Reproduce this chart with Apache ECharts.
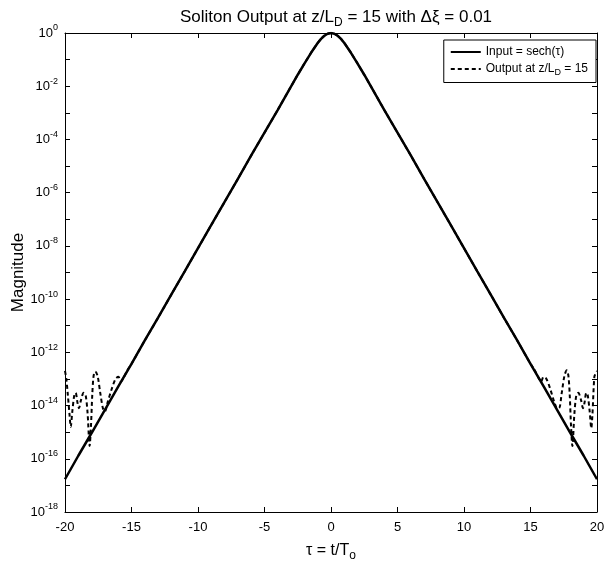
<!DOCTYPE html>
<html>
<head>
<meta charset="utf-8">
<script src="https://cdn.jsdelivr.net/npm/echarts@6/dist/echarts.min.js"></script>
<style>
  html, body { margin: 0; padding: 0; background: #fff; }
  #chart { width: 605px; height: 563px; }
</style>
</head>
<body>
<div id="chart"></div>
<script>
// input pulse
var inTau = [-20, -19, -18, -17, -16, -15, -14, -13, -12, -11, -10, -9, -8, -7, -6, -5, -4, -3,
    -2.5, -2, -1.5, -1, -0.75, -0.5, -0.25, 0, 0.25, 0.5, 0.75, 1, 1.5, 2, 2.5,
    3, 4, 5, 6, 7, 8, 9, 10, 11, 12, 13, 14, 15, 16, 17, 18, 19, 20];
var inMag = [1.7e-17, 1.3e-16, 9.3e-16, 6.9e-15, 5.1e-14, 3.7e-13, 2.8e-12, 2.0e-11, 1.5e-10, 1.1e-9,
    8.2e-9, 6.1e-8, 4.5e-7, 3.3e-6, 2.5e-5, 1.8e-4, 1.3e-3, 9.9e-3,
    0.027, 0.071, 0.18, 0.42, 0.60, 0.79, 0.94, 1, 0.94, 0.79, 0.60, 0.42, 0.18, 0.071, 0.027,
    9.9e-3, 1.3e-3, 1.8e-4, 2.5e-5, 3.3e-6, 4.5e-7, 6.1e-8, 8.2e-9, 1.1e-9, 1.5e-10, 2.0e-11,
    2.8e-12, 3.7e-13, 5.1e-14, 6.9e-15, 9.3e-16, 1.3e-16, 1.7e-17];

// output pulse, follows the input in the middle, noise floor on the tails
var outTau = [-20, -19.9, -19.8, -19.65, -19.57, -19.45, -19.3, -19.2, -19.05, -18.95, -18.8, -18.6,
    -18.45, -18.3, -18.15, -18.05, -17.95, -17.85, -17.72, -17.55, -17.35, -17.15, -17, -16.8,
    -16.5, -16.2, -15.98, -15.8, -15.6, -15.3, -15, -14, -13, -12, -11, -10, -9, -8, -7, -6, -5,
    -4, -3, -2.5, -2, -1.5, -1, -0.75, -0.5, -0.25, 0, 0.25, 0.5, 0.75, 1, 1.5, 2, 2.5, 3, 4, 5,
    6, 7, 8, 9, 10, 11, 12, 13, 14, 15, 15.3, 15.6, 15.8, 15.98, 16.2, 16.5, 16.8, 17, 17.15,
    17.35, 17.55, 17.72, 17.85, 17.95, 18.05, 18.15, 18.3, 18.45, 18.6, 18.8, 18.95, 19.05, 19.2,
    19.3, 19.45, 19.57, 19.65, 19.8, 19.9, 20];
var outMag = [2e-13, 1e-13, 3e-14, 4e-15, 1.6e-15, 6e-15, 2.5e-14, 3e-14, 1.2e-14, 8e-15, 1.6e-14, 3e-14,
    2.5e-14, 5e-15, 3e-16, 1.6e-15, 2.5e-14, 1.3e-13, 1.9e-13, 1.3e-13, 3e-14, 8e-15, 6e-15, 1.3e-14,
    4e-14, 1e-13, 1.2e-13, 8e-14, 1.1e-13, 2.2e-13, 3.7e-13, 2.8e-12, 2.0e-11, 1.5e-10, 1.1e-9,
    8.2e-9, 6.1e-8, 4.5e-7, 3.3e-6, 2.5e-5, 1.8e-4, 1.3e-3, 9.9e-3, 0.027, 0.071, 0.18, 0.42, 0.60,
    0.79, 0.94, 1, 0.94, 0.79, 0.60, 0.42, 0.18, 0.071, 0.027, 9.9e-3, 1.3e-3, 1.8e-4, 2.5e-5,
    3.3e-6, 4.5e-7, 6.1e-8, 8.2e-9, 1.1e-9, 1.5e-10, 2.0e-11, 2.8e-12, 3.7e-13, 2.2e-13, 1.1e-13,
    8e-14, 1.2e-13, 1e-13, 4e-14, 1.3e-14, 8e-15, 8e-15, 3e-14, 1.3e-13, 2.1e-13, 1.3e-13, 2.5e-14,
    1.6e-15, 3e-16, 5e-15, 2.5e-14, 3e-14, 1.6e-14, 8e-15, 1.2e-14, 3e-14, 2.5e-14, 6e-15, 1.4e-15,
    4e-15, 1.2e-13, 1.6e-13, 2e-13];

var xTicks = [-20, -15, -10, -5, 0, 5, 10, 15, 20];

function zip(a, b) {
    return a.map(function(v, i) { return [v, b[i]]; });
}

var font = 'Liberation Sans, Arial, sans-serif';

var chart = echarts.init(document.getElementById('chart'), null, { renderer: 'canvas' });

var tickStyle = { inside: true, length: 5, lineStyle: { color: '#000' } };
var axisLine = { onZero: false, lineStyle: { color: '#000', width: 1 } };

chart.setOption({
    backgroundColor: '#fff',
    animation: false,
    title: {
        text: 'Soliton Output at z/L{s|D} = 15 with \u0394\u03be = 0.01',
        left: 331,
        top: 1,
        textAlign: 'center',
        textStyle: {
            fontFamily: font, fontSize: 17, fontWeight: 'normal', color: '#000',
            rich: { s: { fontFamily: font, fontSize: 12, padding: [11, 0, 0, 0] } }
        }
    },
    legend: {
        orient: 'vertical',
        right: 9,
        top: 40,
        padding: [6, 8, 5, 6],
        itemGap: 5,
        itemWidth: 30,
        itemHeight: 12,
        borderColor: '#000',
        borderWidth: 1,
        borderRadius: 0,
        backgroundColor: '#fff',
        itemStyle: { opacity: 0 },
        textStyle: {
            fontFamily: font, fontSize: 12, color: '#000',
            rich: { s: { fontFamily: font, fontSize: 9, padding: [8, 0, 0, 0] } }
        },
        formatter: function(name) {
            return name === 'out' ? 'Output at z/L{s|D} = 15' : 'Input = sech(\u03c4)';
        },
        data: ['in', 'out']
    },
    grid: { left: 65, right: 8, top: 33, bottom: 51, containLabel: false, outerBoundsMode: 'none' },
    xAxis: [{
        type: 'value',
        min: xTicks[0],
        max: xTicks[xTicks.length - 1],
        interval: 5,
        name: '\u03c4 = t/T{s|o}',
        nameLocation: 'middle',
        nameGap: 28,
        nameMoveOverlap: false,
        nameTextStyle: {
            fontFamily: font, fontSize: 16, color: '#000',
            rich: { s: { fontFamily: font, fontSize: 12, padding: [10, 0, 0, 0] } }
        },
        axisLine: axisLine,
        axisTick: tickStyle,
        splitLine: { show: false },
        axisLabel: { fontFamily: font, fontSize: 13, color: '#000', margin: 9 }
    }, {
        type: 'value',
        position: 'top',
        min: xTicks[0],
        max: xTicks[xTicks.length - 1],
        interval: 5,
        axisLine: axisLine,
        axisTick: tickStyle,
        splitLine: { show: false },
        axisLabel: { show: false }
    }],
    yAxis: [{
        type: 'log',
        logBase: 10,
        min: 1e-18,
        max: 1,
        interval: 1,
        name: 'Magnitude',
        nameLocation: 'middle',
        nameGap: 38,
        nameMoveOverlap: false,
        nameRotate: 90,
        nameTextStyle: { fontFamily: font, fontSize: 17, color: '#000' },
        axisLine: axisLine,
        axisTick: tickStyle,
        splitLine: { show: false },
        axisLabel: {
            margin: 7,
            formatter: function(v) {
                var e = Math.round(Math.log10(v));
                if (e % 2 !== 0) return '';
                return '{b|10}{s|' + e + '}';
            },
            rich: {
                b: { fontFamily: font, fontSize: 13, color: '#000' },
                s: { fontFamily: font, fontSize: 9, color: '#000', padding: [0, 0, 10, 0] }
            }
        }
    }, {
        type: 'log',
        logBase: 10,
        position: 'right',
        min: 1e-18,
        max: 1,
        interval: 1,
        axisLine: axisLine,
        axisTick: tickStyle,
        splitLine: { show: false },
        axisLabel: { show: false }
    }],
    series: [{
        name: 'in',
        type: 'line',
        symbol: 'none',
        data: zip(inTau, inMag),
        lineStyle: { color: '#000', width: 2.5 },
        itemStyle: { color: '#000' },
        z: 3
    }, {
        name: 'out',
        type: 'line',
        symbol: 'none',
        smooth: 0.3,
        data: zip(outTau, outMag),
        lineStyle: { color: '#000', width: 2, type: [4, 3] },
        itemStyle: { color: '#000' },
        z: 2
    }]
});

window.addEventListener('resize', chart.resize);
</script>
</body>
</html>
